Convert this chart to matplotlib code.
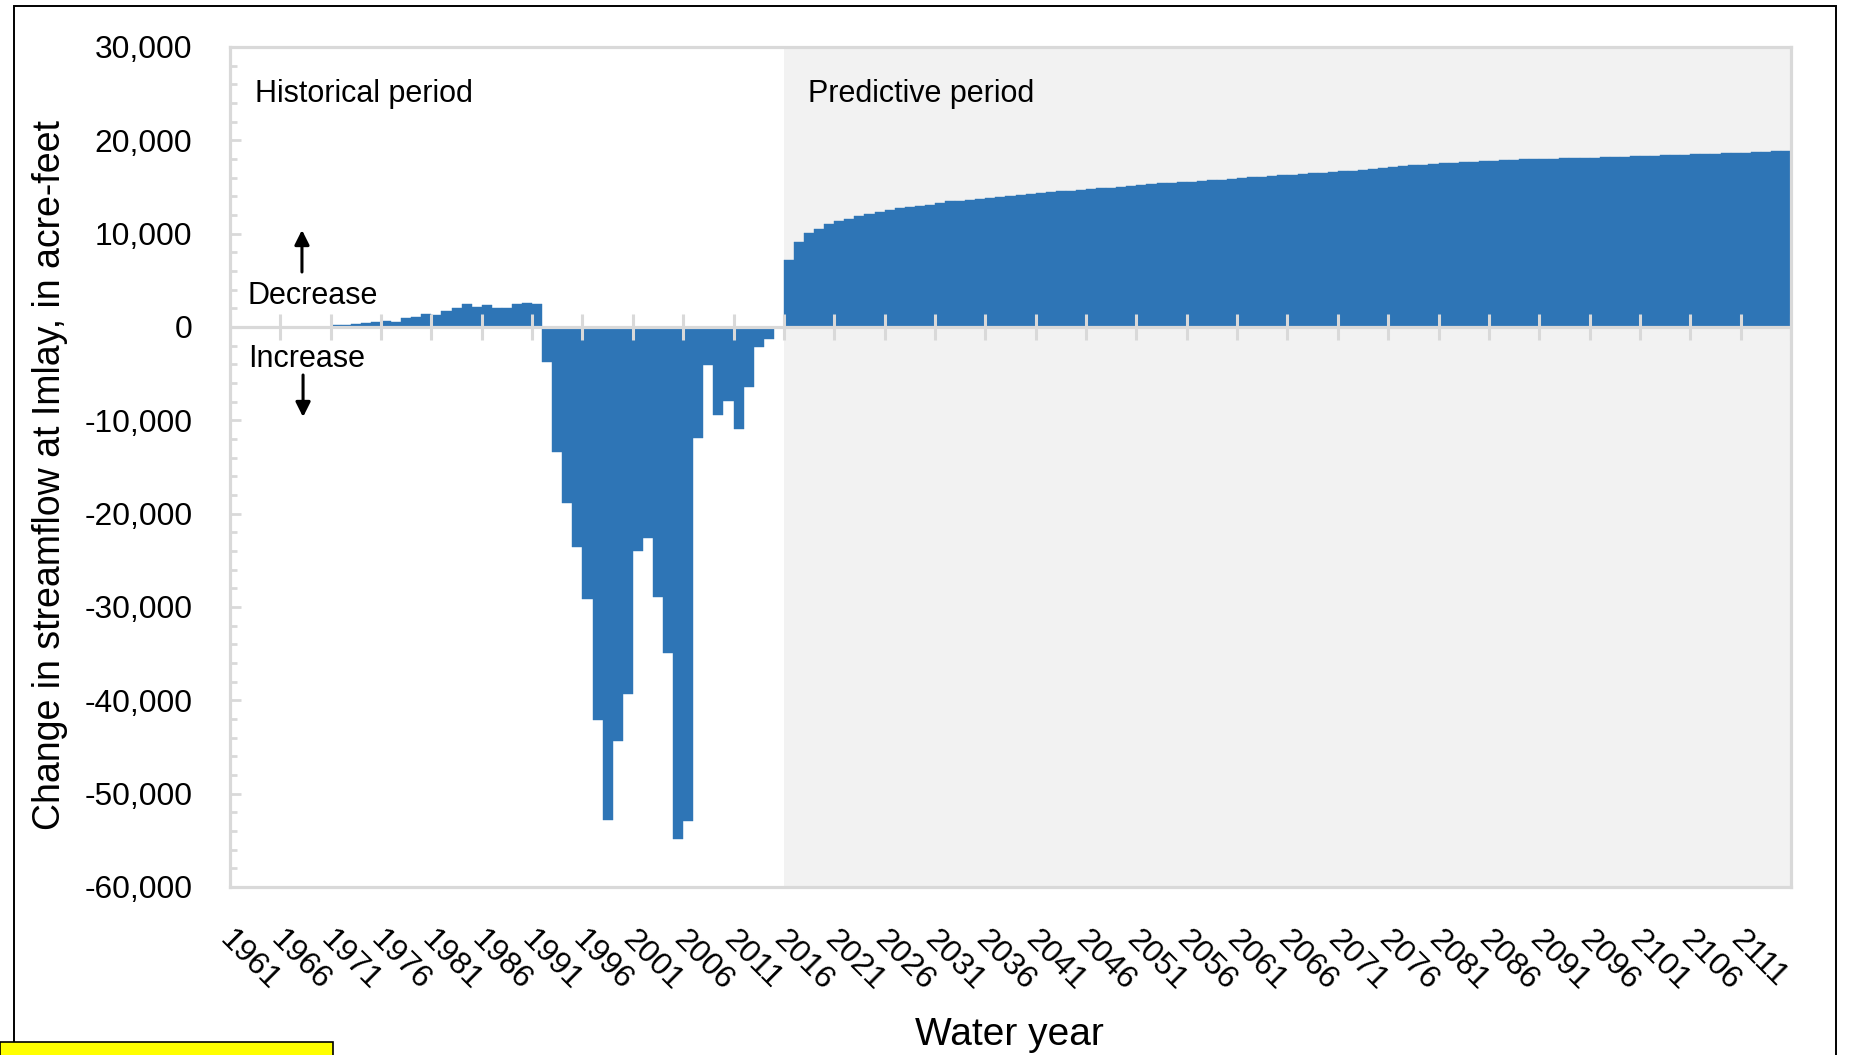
import numpy as np
import matplotlib.pyplot as plt
import matplotlib.font_manager as fm
from matplotlib.patches import Rectangle
from matplotlib.ticker import MultipleLocator, FuncFormatter

# fonturi: preferam o varianta ingusta, ca in original
avail = {f.name for f in fm.fontManager.ttflist}
narrow = 'Liberation Sans Narrow' if 'Liberation Sans Narrow' in avail else 'Liberation Sans'
plt.rcParams['font.family'] = [narrow, 'DejaVu Sans']
k = 1.0 if narrow == 'Liberation Sans Narrow' else 0.88  # fontul lat -> text mai mic

# Date: ani hidrologici si schimbarea debitului la Imlay (acre-feet)
years = list(range(1961, 2116))
first_predictive_year = 2016

hist_change = [
    0, 0, 0, 0, 0, 0, 0, 0, 0, 0,                                   # 1961-1970
    180, 250, 330, 450, 560, 650, 560, 930, 1080, 1400,             # 1971-1980
    1250, 1750, 2050, 2450, 2100, 2400, 2050, 2050, 2500, 2550,     # 1981-1990
    2450, -3700, -13400, -18900, -23600, -29100, -42100, -52800, -44400, -39300,   # 1991-2000
    -24000, -22600, -28900, -34900, -54900, -52900, -11900, -4100, -9400, -7900,   # 2001-2010
    -10900, -6400, -2100, -1300, 0,                                 # 2011-2015
]

pred_change = [
    7140, 9070, 10040, 10540, 11070, 11360, 11600, 11860, 12100, 12300,   # 2016-2025
    12500, 12700, 12900, 13000, 13100, 13300, 13460, 13500, 13640, 13750, # 2026-2035
    13860, 13960, 14070, 14180, 14290, 14360, 14430, 14540, 14600, 14680, # 2036-2045
    14750, 14860, 14930, 15000, 15080, 15180, 15300, 15400, 15460, 15520, # 2046-2055
    15580, 15640, 15720, 15800, 15880, 15950, 16020, 16100, 16170, 16240, # 2056-2065
    16300, 16380, 16450, 16520, 16600, 16670, 16730, 16800, 16930, 17060, # 2066-2075
    17180, 17260, 17330, 17400, 17460, 17530, 17600, 17680, 17720, 17760, # 2076-2085
    17800, 17850, 17900, 17960, 17990, 18020, 18040, 18070, 18090, 18120, # 2086-2095
    18140, 18180, 18220, 18260, 18300, 18330, 18370, 18400, 18440, 18470, # 2096-2105
    18500, 18540, 18570, 18600, 18640, 18680, 18720, 18770, 18820, 18880, # 2106-2115
]

label_years = years[::5]
y_ticks = list(range(-60000, 30001, 10000))

change = np.array(hist_change + pred_change)
idx = np.arange(len(years))
split = years.index(first_predictive_year)

BLUE = '#2e75b6'
GRID = '#d9d9d9'

fig = plt.figure(figsize=(18.5, 10.55), dpi=100)
ax = fig.add_axes([230 / 1850, 1 - 887 / 1055, 1561 / 1850, 840 / 1055])

# fundal perioada predictiva
ax.axvspan(split - 0.5, len(years) - 0.5, color='#f2f2f2', lw=0, zorder=0)

ax.bar(idx, change, width=1.0, color=BLUE, edgecolor=BLUE, lw=0.3, zorder=2)

# axa zero cu marcaje la fiecare 5 ani
ax.axhline(0, color=GRID, lw=2.3, zorder=3)
bounds = np.arange(-0.5, len(years), 5)
ax.vlines(bounds, -1400, 1400, color=GRID, lw=2.2, zorder=3)

ax.set_xlim(-0.5, len(years) - 0.5)
ax.set_ylim(-60000, 30000)

for s in ax.spines.values():
    s.set_color(GRID)
    s.set_linewidth(2.3)

ax.set_yticks(y_ticks)
ax.yaxis.set_major_formatter(FuncFormatter(lambda v, p: f'{int(v):,}'))
ax.yaxis.set_minor_locator(MultipleLocator(2000))
ax.tick_params(axis='y', which='major', direction='in', length=8, width=2,
               color=GRID, labelsize=26 * k, pad=27)
ax.tick_params(axis='y', which='minor', direction='in', length=5, width=2, color=GRID)

ax.set_xticks([years.index(y) for y in label_years])
ax.set_xticklabels([str(y) for y in label_years], rotation=-45, ha='left',
                   va='top', rotation_mode='anchor')
ax.tick_params(axis='x', length=0, labelsize=23, pad=27)

# texte din grafic
fs = 25 * k
ax.text(0.016, 0.9345, 'Historical period', transform=ax.transAxes, fontsize=fs, va='baseline')
ax.text(0.370, 0.9345, 'Predictive period', transform=ax.transAxes, fontsize=fs, va='baseline')
ax.text(0.0115, (887 - 304) / 840, 'Decrease', transform=ax.transAxes, fontsize=fs, va='baseline')
ax.text(0.0115, (887 - 367) / 840, 'Increase', transform=ax.transAxes, fontsize=fs, va='baseline')

arrow = dict(arrowstyle='-|>', color='black', lw=2.2, mutation_scale=22, shrinkA=0, shrinkB=0)
ax.annotate('', xy=(0.0461, (887 - 230) / 840), xytext=(0.0461, (887 - 272) / 840),
            xycoords='axes fraction', arrowprops=arrow)
ax.annotate('', xy=(0.0468, (887 - 417) / 840), xytext=(0.0468, (887 - 375) / 840),
            xycoords='axes fraction', arrowprops=arrow)

fig.text(50 / 1850, 1 - 475 / 1055, 'Change in streamflow at Imlay, in acre-feet',
         rotation=90, ha='center', va='center', fontsize=27)
fig.text(1009 / 1850, 1 - 1045 / 1055, 'Water year', ha='center', va='baseline', fontsize=28)

# chenar negru si eticheta galbena
fig.add_artist(Rectangle((14 / 1850, -0.05), 1822 / 1850, 1 - 6 / 1055 + 0.05,
                         transform=fig.transFigure, fill=False, ec='black', lw=1.4))
fig.add_artist(Rectangle((0, -0.01), 333 / 1850, 13 / 1055 + 0.01,
                         transform=fig.transFigure, fc='#ffff00', ec='black', lw=1.2))

fig.savefig('out.png', dpi=100)
